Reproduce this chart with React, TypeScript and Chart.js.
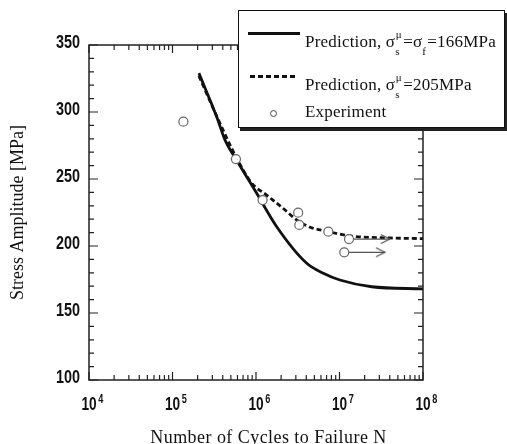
import React, { useEffect, useRef } from "react";
import { Chart, registerables } from "chart.js";

Chart.register(...registerables);

// ---- data ----
const solidN = [2.07e5, 3.38e5, 4.26e5, 5.87e5, 1.02e6, 1.77e6, 4.05e6, 6.4e6, 1.01e7, 2.43e7, 1e8];
const solidS = [329, 296.5, 279, 264, 239.3, 214.4, 187.1, 179.7, 174.6, 169.6, 168];

const dashN = [2.07e5, 3.38e5, 5.87e5, 8.87e5, 1.34e6, 2.12e6, 3.07e6, 4.44e6, 7.03e6, 1.34e7, 4.03e7, 1e8];
const dashS = [327, 297, 265.5, 247, 238, 228, 219.5, 214, 211, 207.5, 206, 205.5];

const expN = [1.35e5, 5.75e5, 1.2e6, 3.2e6, 3.3e6, 7.35e6, 1.3e7, 1.14e7];
const expS = [292.8, 264.9, 234.3, 224.9, 215.7, 210.7, 205.2, 195.3];

// run-out arrows: start (experiment point) -> end
const arrowStartN = [1.3e7, 1.14e7];
const arrowStartS = [205.2, 195.3];
const arrowEndN = [4.0e7, 3.5e7];

const xMin = 1e4;
const xMax = 1e8;
const yMin = 100;
const yMax = 350;
const yStep = 10;
const yLabelEvery = 50;
const decades = [4, 5, 6, 7, 8];

const xTitle = "Number of Cycles to Failure N";
const yTitle = "Stress Amplitude [MPa]";

const sansFont = "'Liberation Sans', Arial, sans-serif";
const serif = "'Liberation Serif', 'Times New Roman', serif";

function makeChevron(): HTMLCanvasElement {
  const c = document.createElement("canvas");
  c.width = 24;
  c.height = 12;
  const g = c.getContext("2d")!;
  g.strokeStyle = "#555";
  g.lineWidth = 1.3;
  g.beginPath();
  g.moveTo(3, 1.5);
  g.lineTo(12, 6);
  g.lineTo(3, 10.5);
  g.stroke();
  return c;
}

const isPow10 = (v: number) => {
  const e = Math.round(Math.log10(v));
  return Math.abs(Math.pow(10, e) - v) < 1e-6 * v;
};

// frame, inward ticks on all four sides, and condensed tick labels
const frameTicks = {
  id: "frameTicks",
  afterDraw(chart: any) {
    const { ctx, chartArea } = chart;
    const { left, right, top, bottom } = chartArea;
    const xs = chart.scales.x;
    const ys = chart.scales.y;
    ctx.save();
    ctx.strokeStyle = "#222";
    ctx.lineWidth = 1.5;
    ctx.strokeRect(left, top, right - left, bottom - top);
    ctx.lineWidth = 1.2;
    ctx.beginPath();
    xs.ticks.forEach((t: any) => {
      const px = xs.getPixelForValue(t.value);
      const len = isPow10(t.value) ? 8 : 5;
      ctx.moveTo(px, bottom);
      ctx.lineTo(px, bottom - len);
      ctx.moveTo(px, top);
      ctx.lineTo(px, top + len);
    });
    ys.ticks.forEach((t: any) => {
      const py = ys.getPixelForValue(t.value);
      const len = t.value % yLabelEvery === 0 ? 9 : 5;
      ctx.moveTo(left, py);
      ctx.lineTo(left + len, py);
      ctx.moveTo(right, py);
      ctx.lineTo(right - len, py);
    });
    ctx.stroke();

    ctx.fillStyle = "#111";
    // y labels
    ys.ticks.forEach((t: any) => {
      if (t.value % yLabelEvery !== 0) return;
      const py = ys.getPixelForValue(t.value);
      ctx.save();
      ctx.translate(left - 9, py - 1.5);
      ctx.scale(0.8, 1);
      ctx.font = `bold 18px ${sansFont}`;
      ctx.textAlign = "right";
      ctx.textBaseline = "middle";
      ctx.fillText(String(t.value), 0, 0);
      ctx.restore();
    });
    // x labels 10^n
    xs.ticks.forEach((t: any) => {
      if (!isPow10(t.value)) return;
      const px = xs.getPixelForValue(t.value);
      const e = Math.round(Math.log10(t.value));
      ctx.save();
      ctx.translate(px, bottom + 30);
      ctx.scale(0.76, 1);
      ctx.font = `bold 18px ${sansFont}`;
      ctx.textAlign = "center";
      ctx.textBaseline = "alphabetic";
      ctx.fillText("10", 0, 0);
      const w = ctx.measureText("10").width;
      ctx.font = `bold 12px ${sansFont}`;
      ctx.textAlign = "left";
      ctx.fillText(String(e), w / 2 + 2, -7);
      ctx.restore();
    });
    ctx.restore();
  },
};

function ChartView() {
  const ref = useRef<HTMLCanvasElement>(null);
  useEffect(() => {
    const chevron = makeChevron();
    const arrowSets = arrowStartN.map((n, i) => ({
      data: [
        { x: n, y: arrowStartS[i] },
        { x: arrowEndN[i], y: arrowStartS[i] },
      ],
      showLine: true,
      borderColor: "#555",
      borderWidth: 1.3,
      pointRadius: (c: any) => (c.dataIndex === 1 ? 5 : 0),
      pointStyle: (c: any) => (c.dataIndex === 1 ? chevron : "circle"),
      order: 1,
    }));
    const chart = new Chart(ref.current!, {
      type: "scatter",
      data: {
        datasets: [
          {
            data: expN.map((n, i) => ({ x: n, y: expS[i] })),
            pointRadius: 4.5,
            pointBorderColor: "#666",
            pointBackgroundColor: "#fff",
            pointBorderWidth: 1.2,
            showLine: false,
            order: 0,
          } as any,
          ...arrowSets,
          {
            data: dashN.map((n, i) => ({ x: n, y: dashS[i] })),
            showLine: true,
            borderColor: "#111",
            borderWidth: 2.8,
            borderDash: [5, 3],
            pointRadius: 0,
            cubicInterpolationMode: "monotone",
            order: 2,
          },
          {
            data: solidN.map((n, i) => ({ x: n, y: solidS[i] })),
            showLine: true,
            borderColor: "#111",
            borderWidth: 2.8,
            pointRadius: 0,
            cubicInterpolationMode: "monotone",
            order: 3,
          },
        ],
      },
      options: {
        responsive: false,
        animation: false,
        events: [],
        layout: { padding: { top: 45, right: 84, left: 0, bottom: 0 } },
        plugins: { legend: { display: false }, tooltip: { enabled: false } },
        scales: {
          x: {
            type: "logarithmic",
            min: xMin,
            max: xMax,
            grid: { display: false, drawTicks: false },
            border: { display: false },
            afterBuildTicks: (s: any) => {
              const t: any[] = [];
              for (let d = 0; d < decades.length - 1; d++) {
                for (let m = 1; m < 10; m++) t.push({ value: m * Math.pow(10, decades[d]) });
              }
              t.push({ value: Math.pow(10, decades[decades.length - 1]) });
              s.ticks = t;
            },
            afterFit: (s: any) => {
              s.height = 64;
            },
            ticks: { display: false, autoSkip: false },
          },
          y: {
            type: "linear",
            min: yMin,
            max: yMax,
            grid: { display: false, drawTicks: false },
            border: { display: false },
            afterFit: (s: any) => {
              s.width = 89;
            },
            ticks: { display: false, stepSize: yStep, autoSkip: false },
            title: {
              display: true,
              text: yTitle,
              color: "#111",
              font: { family: serif, size: 18, lineHeight: 1 },
              padding: { top: 9.5, bottom: 0 },
            },
          },
        },
      } as any,
      plugins: [frameTicks],
    });
    return () => chart.destroy();
  }, []);
  return <canvas ref={ref} width={507} height={444} style={{ position: "absolute", left: 0, top: 0 }} />;
}

const Stack = ({ sup, sub, w = 8 }: { sup?: string; sub?: string; w?: number }) => (
  <span style={{ display: "inline-block", position: "relative", width: w, height: "1em" }}>
    {sup && (
      <span style={{ position: "absolute", left: 0.5, top: -1.5, fontSize: 11, lineHeight: "11px" }}>{sup}</span>
    )}
    {sub && (
      <span style={{ position: "absolute", left: 0, top: 16, fontSize: 11, lineHeight: "11px" }}>{sub}</span>
    )}
  </span>
);

function Legend() {
  const text: React.CSSProperties = {
    position: "absolute",
    left: 305,
    fontFamily: serif,
    fontSize: 17,
    lineHeight: "17px",
    letterSpacing: "0.2px",
    whiteSpace: "nowrap",
    color: "#111",
  };
  return (
    <>
      <div
        style={{
          position: "absolute",
          left: 238,
          top: 10,
          width: 267,
          height: 118,
          boxSizing: "border-box",
          border: "1.5px solid #111",
          boxShadow: "2px 3px 0 #222",
          background: "#fff",
        }}
      />
      <div style={{ position: "absolute", left: 248, top: 32, width: 52, height: 3, background: "#111" }} />
      <div style={{ ...text, top: 30 }}>
        Prediction, σ<Stack sup="μ" sub="s" />=σ<Stack sub="f" w={5} />=166MPa
      </div>
      <div
        style={{
          position: "absolute",
          left: 250,
          top: 74.5,
          width: 48,
          height: 3,
          background: "repeating-linear-gradient(90deg, #111 0 5px, transparent 5px 8px)",
        }}
      />
      <div style={{ ...text, top: 73 }}>
        Prediction, σ<Stack sup="μ" sub="s" />=205MPa
      </div>
      <div
        style={{
          position: "absolute",
          left: 269.5,
          top: 109.5,
          width: 7,
          height: 7,
          boxSizing: "border-box",
          border: "1px solid #444",
          borderRadius: "50%",
        }}
      />
      <div style={{ ...text, top: 103 }}>Experiment</div>
    </>
  );
}

export default function App() {
  return (
    <div style={{ position: "fixed", left: 0, top: 0, width: 507, height: 444, background: "#fff", overflow: "hidden" }}>
      <ChartView />
      <Legend />
      <div
        style={{
          position: "absolute",
          left: 268.5,
          top: 427.5,
          transform: "translateX(-50%)",
          fontFamily: serif,
          fontSize: 18,
          lineHeight: "18px",
          letterSpacing: "0.45px",
          whiteSpace: "nowrap",
          color: "#111",
        }}
      >
        {xTitle}
      </div>
    </div>
  );
}
